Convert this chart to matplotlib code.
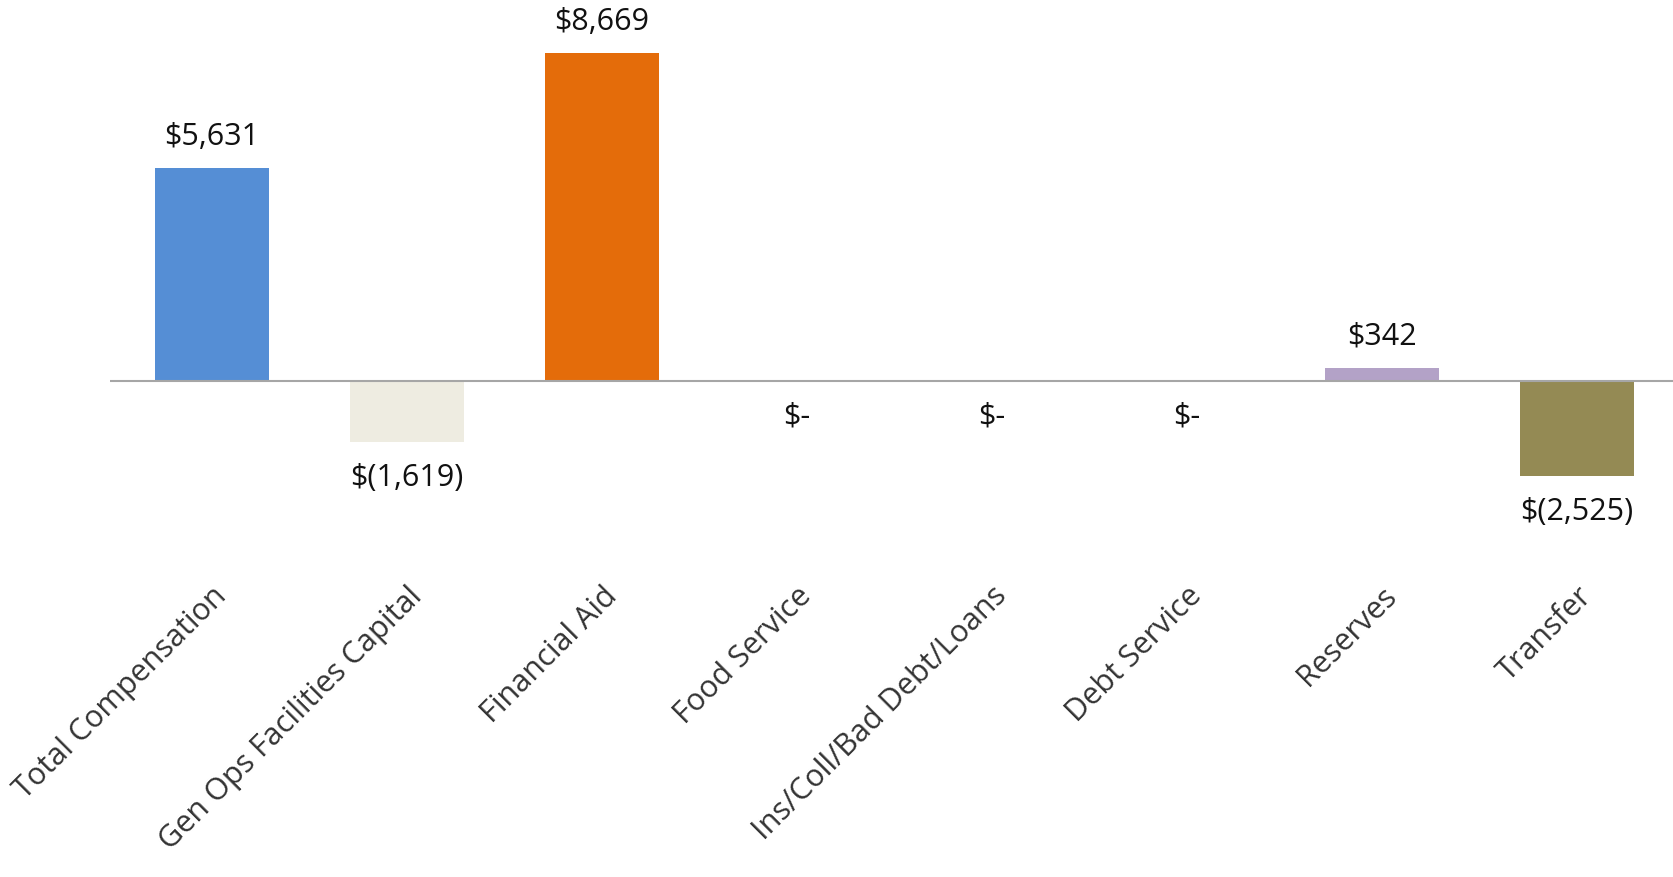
import matplotlib.pyplot as plt

categories = ["Total Compensation", "Gen Ops Facilities Capital", "Financial Aid",
              "Food Service", "Ins/Coll/Bad Debt/Loans", "Debt Service",
              "Reserves", "Transfer"]
values = [5631, -1619, 8669, 0, 0, 0, 342, -2525]
colors = ["#558ED5", "#EEECE1", "#E46C0A", "#FFFFFF", "#FFFFFF", "#FFFFFF",
          "#B3A2C7", "#948A54"]

plt.rcParams["font.family"] = ["Open Sans", "DejaVu Sans"]


def money(v):
    if v == 0:
        return "$-"
    if v < 0:
        return "$({:,})".format(-v)
    return "${:,}".format(v)


fig = plt.figure(figsize=(16.74, 8.77), dpi=100)
ax = fig.add_axes([0.066, 0.35, 0.934, 0.625])

x = range(len(categories))
ax.bar(x, values, width=0.585, color=colors, zorder=2)
ax.axhline(0, color="#A6A6A6", linewidth=1.5, zorder=3)

for i, v in enumerate(values):
    if v > 0:
        ax.annotate(money(v), (i, v), xytext=(0, 12), textcoords="offset points",
                    ha="center", va="bottom", fontsize=22, color="#111111")
    else:
        ax.annotate(money(v), (i, v), xytext=(0, -15), textcoords="offset points",
                    ha="center", va="top", fontsize=22, color="#111111")

ax.set_xlim(-0.52, 7.5)
ax.set_ylim(-5000, 9500)
ax.set_xticks(list(x))
ax.set_xticklabels(categories, rotation=45, ha="right", rotation_mode="anchor",
                   fontsize=22, color="#333333")
ax.tick_params(axis="x", length=0, pad=8)
ax.set_yticks([])
for s in ax.spines.values():
    s.set_visible(False)

fig.savefig("out.png", dpi=100)
